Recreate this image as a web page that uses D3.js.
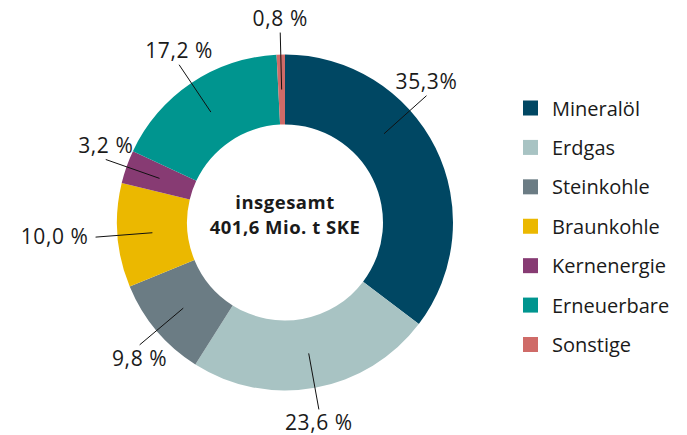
<!DOCTYPE html>
<html>
<head>
<meta charset="utf-8">
<script src="https://cdn.jsdelivr.net/npm/d3@7"></script>
<style>
  body { margin: 0; background: #fff; }
  svg text { font-family: "Open Sans", sans-serif; fill: #1a1a1a; }
</style>
</head>
<body>
<svg id="chart" width="687" height="435"></svg>
<script>
// Energy mix data (share in %)
const categories = ["Mineralöl", "Erdgas", "Steinkohle", "Braunkohle", "Kernenergie", "Erneuerbare", "Sonstige"];
const shares = [35.3, 23.6, 9.8, 10.0, 3.2, 17.2, 0.8];
const shareLabels = ["35,3%", "23,6 %", "9,8 %", "10,0 %", "3,2 %", "17,2 %", "0,8 %"];
const colors = ["#004763", "#a8c3c3", "#6b7c84", "#ebb800", "#873b73", "#00958f", "#cf6b68"];
const centerLines = ["insgesamt", "401,6 Mio. t SKE"];

const svg = d3.select("#chart");
const cx = 285, cy = 222.5;
const outerR = 168, innerR = 98;

const color = d3.scaleOrdinal(categories, colors);

const pie = d3.pie().sort(null).value((d) => d.value);
const arcs = pie(categories.map((c, i) => ({ name: c, value: shares[i], label: shareLabels[i] })));

const arc = d3.arc().innerRadius(innerR).outerRadius(outerR);

const g = svg.append("g").attr("transform", `translate(${cx},${cy})`);

g.selectAll("path.slice")
  .data(arcs)
  .enter()
  .append("path")
  .attr("class", "slice")
  .attr("d", arc)
  .attr("fill", (d) => color(d.data.name));

// leader lines: from mid ring out past the edge
const lineInR = 133, lineOutR = 190;
// Mineralöl label sits further up than its slice middle
const angleShift = { "Mineralöl": -0.27 };

function labelAngle(d) {
  return (d.startAngle + d.endAngle) / 2 + (angleShift[d.data.name] || 0);
}
function polar(a, r) {
  return [Math.sin(a) * r, -Math.cos(a) * r];
}

arcs.forEach((d) => {
  const a = labelAngle(d);
  const p0 = polar(a, lineInR);
  const p1 = polar(a, lineOutR);
  g.append("line")
    .attr("x1", p0[0]).attr("y1", p0[1])
    .attr("x2", p1[0]).attr("y2", p1[1])
    .attr("stroke", "#111")
    .attr("stroke-width", 1);

  const t = g.append("text")
    .style("font-size", "21px")
    .style("letter-spacing", "0.6px")
    .text(d.data.label);
  if (Math.abs(Math.cos(a)) < 0.2) {
    // side label
    t.attr("x", p1[0] + (Math.sin(a) < 0 ? -7 : 7))
      .attr("y", p1[1] + 7)
      .attr("text-anchor", Math.sin(a) < 0 ? "end" : "start");
  } else if (Math.cos(a) > 0) {
    // upper half: above the line end
    t.attr("x", p1[0]).attr("y", p1[1] - 7).attr("text-anchor", "middle");
  } else {
    // lower half: below the line end
    t.attr("x", p1[0]).attr("y", p1[1] + 21).attr("text-anchor", "middle");
  }
});

// center text
g.selectAll("text.center")
  .data(centerLines)
  .enter()
  .append("text")
  .attr("class", "center")
  .attr("x", 0)
  .attr("y", (d, i) => -14 + i * 25)
  .attr("text-anchor", "middle")
  .style("font-size", "18.5px")
  .style("letter-spacing", "0.5px")
  .style("font-weight", "bold")
  .text((d) => d);

// legend
const legendY = d3.scalePoint().domain(categories).range([108, 344.5]);
const legend = svg.append("g");
const rows = legend.selectAll("g")
  .data(categories)
  .enter()
  .append("g")
  .attr("transform", (d) => `translate(523,${legendY(d)})`);

rows.append("rect")
  .attr("x", 0).attr("y", -7.5)
  .attr("width", 15).attr("height", 15)
  .attr("fill", (d) => color(d));

rows.append("text")
  .attr("x", 29)
  .attr("y", 7.5)
  .style("font-size", "20px")
  .text((d) => d);
</script>
</body>
</html>
